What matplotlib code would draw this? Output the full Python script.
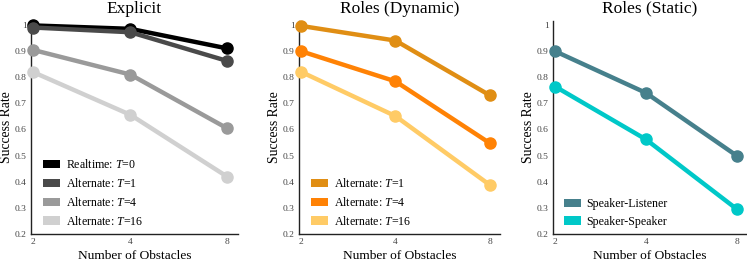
import numpy as np
import matplotlib
matplotlib.use("Agg")
import matplotlib.pyplot as plt
from matplotlib.patches import Patch
from matplotlib.ticker import FixedLocator, NullLocator

plt.rcParams['font.family'] = ['Liberation Serif', 'DejaVu Serif']
plt.rcParams['mathtext.fontset'] = 'custom'
plt.rcParams['mathtext.it'] = 'Liberation Serif:italic'
plt.rcParams['mathtext.rm'] = 'Liberation Serif'

obstacles = [2, 4, 8]
yticks = [0.2, 0.3, 0.4, 0.5, 0.6, 0.7, 0.8, 0.9, 1.0]

explicit_labels = ["Realtime: $T$=0", "Alternate: $T$=1", "Alternate: $T$=4", "Alternate: $T$=16"]
explicit_realtime_t0 = [0.998, 0.985, 0.910]
explicit_alt_t1 = [0.990, 0.972, 0.862]
explicit_alt_t4 = [0.904, 0.810, 0.604]
explicit_alt_t16 = [0.819, 0.656, 0.419]
explicit_colors = ["#000000", "#4a4a4a", "#9a9a9a", "#d0d0d0"]

dynamic_labels = ["Alternate: $T$=1", "Alternate: $T$=4", "Alternate: $T$=16"]
dynamic_alt_t1 = [0.996, 0.940, 0.731]
dynamic_alt_t4 = [0.899, 0.784, 0.548]
dynamic_alt_t16 = [0.820, 0.651, 0.388]
dynamic_colors = ["#e08e14", "#ff8205", "#ffcb66"]

static_labels = ["Speaker-Listener", "Speaker-Speaker"]
static_speaker_listener = [0.899, 0.740, 0.500]
static_speaker_speaker = [0.764, 0.562, 0.296]
static_colors = ["#46808c", "#00c8c8"]

titles = ["Explicit", "Roles (Dynamic)", "Roles (Static)"]
panels = [
    (explicit_labels, [explicit_realtime_t0, explicit_alt_t1, explicit_alt_t4, explicit_alt_t16], explicit_colors),
    (dynamic_labels, [dynamic_alt_t1, dynamic_alt_t4, dynamic_alt_t16], dynamic_colors),
    (static_labels, [static_speaker_listener, static_speaker_speaker], static_colors),
]

W, H = 747, 263
fig = plt.figure(figsize=(W / 100, H / 100), dpi=100)
boxes = [(31, 238), (299, 500), (553, 746.5)]
legend_x = [0.058, 0.06, 0.057]
top_px, bot_px = 21, 234

for (l, r), lx, title, (labels, series, colors) in zip(boxes, legend_x, titles, panels):
    ax = fig.add_axes([l / W, (H - bot_px) / H, (r - l) / W, (bot_px - top_px) / H])
    for lab, vals, c in zip(labels, series, colors):
        ax.plot(obstacles, vals, color=c, lw=3.2, marker='o', ms=8,
                solid_capstyle='round', zorder=3, clip_on=False)
    ax.set_xscale('log', base=2)
    ax.set_xlim(2 ** 0.975, 2 ** 3.11)
    ax.set_ylim(0.2, 1.015)
    ax.xaxis.set_major_locator(FixedLocator(obstacles))
    ax.xaxis.set_minor_locator(NullLocator())
    ax.set_xticklabels([str(o) for o in obstacles])
    ax.set_yticks(yticks)
    ax.set_yticklabels(['%g' % v for v in yticks])
    ax.tick_params(axis='both', length=0, labelsize=6.8, colors='#444444', pad=3)
    for s in ['top', 'right']:
        ax.spines[s].set_visible(False)
    for s in ['left', 'bottom']:
        ax.spines[s].set_color('#222222')
        ax.spines[s].set_linewidth(1.0)
    ax.set_title(title, fontsize=12.5, pad=6)
    ax.set_xlabel("Number of Obstacles", fontsize=9.6, labelpad=2.5)
    ax.set_ylabel("Success Rate", fontsize=9.8, labelpad=1.5)
    handles = [Patch(facecolor=c, edgecolor='none') for c in colors]
    ax.legend(handles, labels, loc='lower left', frameon=False, fontsize=8.6,
              handlelength=1.45, handleheight=0.7, handletextpad=0.45,
              labelspacing=0.48, borderpad=0, borderaxespad=0,
              bbox_to_anchor=(lx, 0.03))

fig.savefig("out.png", dpi=100)
